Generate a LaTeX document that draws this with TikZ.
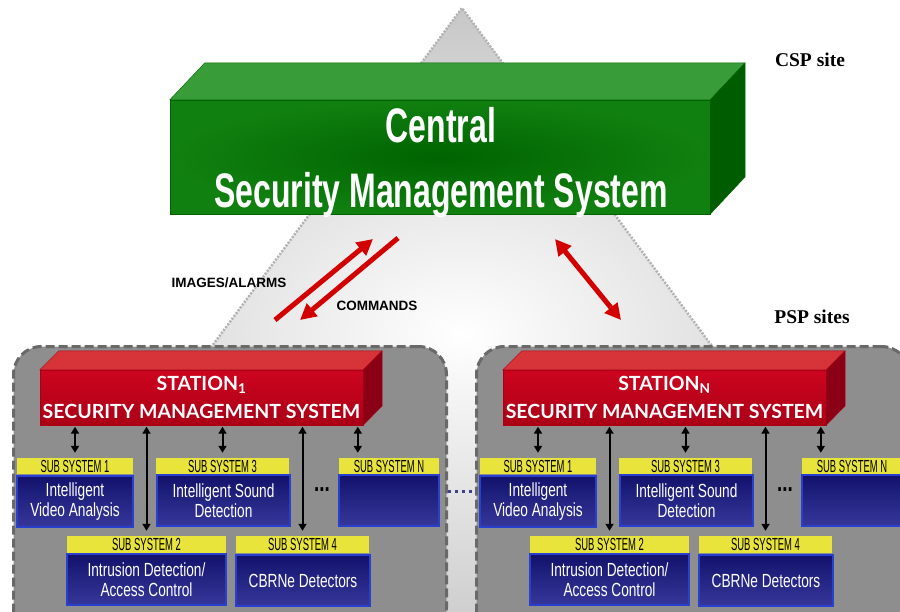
\documentclass[tikz,border=0pt]{standalone}
\usepackage{fontspec}
\setmainfont{Liberation Serif}
\setsansfont{Liberation Sans}
\newfontfamily\centralfont[FakeStretch=0.66]{Liberation Sans}
\newfontfamily\narrowfont[FakeStretch=0.72]{Liberation Sans}
\newfontfamily\tagfont[FakeStretch=0.54]{Liberation Sans}
\newfontfamily\stationfont{Lato}
\usepackage{tikz}
\usetikzlibrary{arrows.meta,calc}

\definecolor{cmsgreen}{RGB}{16,128,16}
\definecolor{cmsgreendark}{RGB}{0,100,0}
\definecolor{cmsgreentop}{RGB}{56,156,56}
\definecolor{cmsgreenside}{RGB}{0,92,0}
\definecolor{stred}{RGB}{205,5,30}
\definecolor{streddark}{RGB}{170,0,22}
\definecolor{stredtop}{RGB}{214,52,56}
\definecolor{stredside}{RGB}{140,0,22}
\definecolor{subyellow}{RGB}{232,228,60}
\definecolor{subnavy}{RGB}{18,18,108}
\definecolor{subnavylight}{RGB}{55,55,155}
\definecolor{subblue}{RGB}{40,64,205}
\definecolor{panelgray}{RGB}{142,142,142}
\definecolor{paneledge}{RGB}{105,105,105}
\definecolor{arrowred}{RGB}{210,0,0}

\begin{document}
\begin{tikzpicture}[x=1pt, y=-1pt]
\tikzset{greenfront/.style = {draw=cmsgreendark, inner color=cmsgreendark, outer color=cmsgreen}}
\tikzset{greentext/.style = {text=white, align=center, font=\centralfont\bfseries\fontsize{48.5}{65}\selectfont}}
\tikzset{redfront/.style = {draw=streddark, top color=stred, bottom color=streddark, inner sep=0,
        text=white, align=center, font=\stationfont\bfseries\fontsize{19.5}{28}\selectfont}}
\tikzset{sublabel/.style = {fill=subyellow, minimum height=16, inner sep=0,
        font=\tagfont\fontsize{17.5}{16}\selectfont}}
\tikzset{subbox/.style = {draw=subblue, line width=1.5, top color=subnavy, middle color=subnavy,
        bottom color=subnavylight, minimum height=51, inner sep=0, text=white, align=center,
        font=\narrowfont\fontsize{19}{20.5}\selectfont}}
\tikzset{panel/.style = {fill=panelgray, draw=paneledge, line width=3, dash pattern=on 9 off 4,
        rounded corners=28}}
\tikzset{link/.style = {draw=black, line width=2, {Triangle[length=7,width=8]}-{Triangle[length=7,width=8]},
        shorten <=1.5, shorten >=5}}
\tikzset{flow/.style = {draw=arrowred, line width=5, -{Triangle[length=16,width=16]}}}
\tikzset{flowlabel/.style = {font=\sffamily\bfseries\fontsize{13.5}{14}\selectfont}}
\tikzset{sitelabel/.style = {font=\rmfamily\bfseries\fontsize{19.5}{20}\selectfont}}
\clip (0,0) rectangle (900,611);

% background triangle
\shade[inner color=white, outer color=black!22] (462,8) -- (-20,660) -- (944,660) -- cycle;
\draw[black!30, line width=2.5, dash pattern=on 2 off 1.5] (-20,660) -- (462,8) -- (944,660);

% central system (CSP)
\node[greenfront, minimum width=540, minimum height=114] (csms) at (440,157) {};
\fill[cmsgreentop, draw=cmsgreendark] (csms.north west) -- ++(35,-37) -- ++(540,0) -- (csms.north east) -- cycle;
\fill[cmsgreenside, draw=cmsgreendark] (csms.north east) -- ++(35,-37) -- ++(0,114) -- (csms.south east) -- cycle;
\node[greentext] (csmslabel) at (441,163) {Central\\Security Management System};

\node[sitelabel] (csp) at (810,60) {CSP site};
\node[sitelabel] (psp) at (812,317) {PSP sites};

% links between the sites
\coordinate (img-s) at (275,320);
\coordinate (img-e) at (373,239);
\coordinate (cmd-s) at (398,238);
\coordinate (cmd-e) at (300,320);
\coordinate (lnk-s) at (555,239);
\coordinate (lnk-e) at (621,320);
\draw[flow] (img-s) -- (img-e);
\draw[flow] (cmd-s) -- (cmd-e);
\draw[flow, {Triangle[length=16,width=16]}-{Triangle[length=16,width=16]}] (lnk-s) -- (lnk-e);
\node[flowlabel] (imglabel) at (229,283) {IMAGES/ALARMS};
\node[flowlabel] (cmdlabel) at (377,306) {COMMANDS};

% stations (PSP)
\foreach \s/\dx in {1/0, N/463}{
\begin{scope}[shift={(\dx,0)}]
\node[panel, minimum width=433, minimum height=290, anchor=north west] (p\s) at (12,345) {};
\node[redfront, minimum width=323, minimum height=55] (st\s) at (201.5,397.5)
    {STATION\textsubscript{\s}\\SECURITY MANAGEMENT SYSTEM};
\fill[stredtop, draw=streddark] (st\s.north west) -- ++(19,-19) -- ++(323,0) -- (st\s.north east) -- cycle;
\fill[stredside, draw=streddark] (st\s.north east) -- ++(19,-19) -- ++(0,55) -- (st\s.south east) -- cycle;

\node[sublabel, minimum width=116] (lab\s-1) at (75,466) {SUB SYSTEM 1};
\node[subbox, minimum width=116] (box\s-1) at (75,501.5) {Intelligent\\Video Analysis};
\node[sublabel, minimum width=133] (lab\s-3) at (222.5,466) {SUB SYSTEM 3};
\node[subbox, minimum width=133] (box\s-3) at (223.5,500.5) {Intelligent Sound\\Detection};
\node[sublabel, minimum width=100] (lab\s-N) at (389,466) {SUB SYSTEM N};
\node[subbox, minimum width=100] (box\s-N) at (389,500.5) {};
\node[sublabel, minimum width=159, minimum height=17] (lab\s-2) at (146.5,544.5) {SUB SYSTEM 2};
\node[subbox, minimum width=159] (box\s-2) at (146.5,579.5) {Intrusion Detection/\\Access Control};
\node[sublabel, minimum width=133, minimum height=17] (lab\s-4) at (302.5,544.5) {SUB SYSTEM 4};
\node[subbox, minimum width=134] (box\s-4) at (303,580.5) {CBRNe Detectors};
\node[font=\narrowfont\bfseries\fontsize{26}{26}\selectfont] (more\s) at (322,490) {...};
\coordinate (tip\s-N) at ($(lab\s-N.north west)+(19,0)$);

\draw[link] (st\s.south -| lab\s-1.north) -- (lab\s-1.north);
\draw[link] (st\s.south -| lab\s-2.north) -- (lab\s-2.north);
\draw[link] (st\s.south -| lab\s-3.north) -- (lab\s-3.north);
\draw[link] (st\s.south -| lab\s-4.north) -- (lab\s-4.north);
\draw[link] (st\s.south -| tip\s-N) -- (tip\s-N);
\end{scope}
}
\draw[draw=subnavy!80, line width=3, dash pattern=on 3 off 4] (p1.east) -- (pN.west);

\end{tikzpicture}
\end{document}
